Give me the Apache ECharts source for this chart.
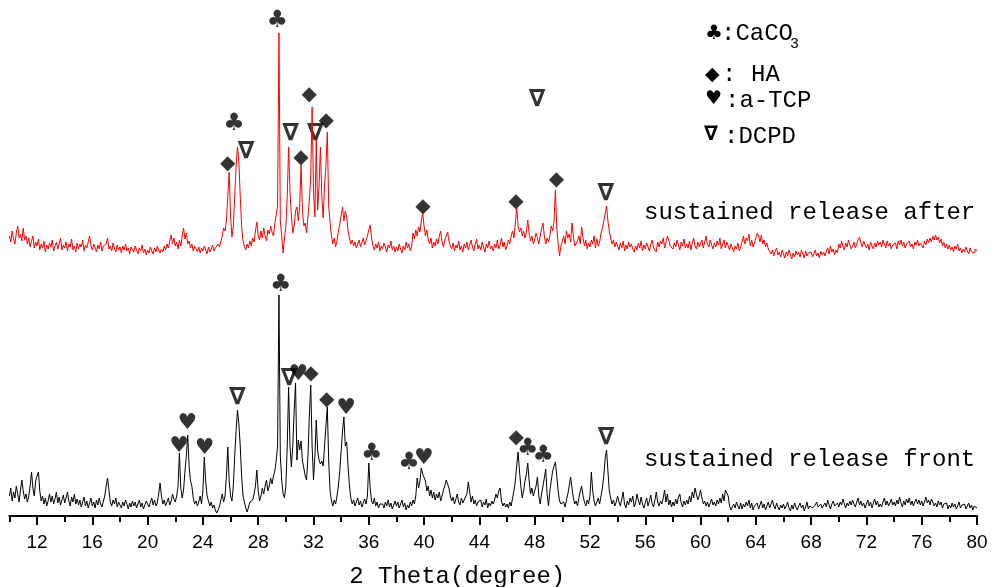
<!DOCTYPE html>
<html>
<head>
<meta charset="utf-8">
<script src="https://cdn.jsdelivr.net/npm/echarts@6/dist/echarts.min.js"></script>
<style>
html,body{margin:0;padding:0;background:#fff;}
#chart{width:995px;height:587px;}
</style>
</head>
<body>
<div id="chart"></div>
<script>
// ---- data ----
const twoThetaStart = 10;      // degree
const twoThetaStep = 0.1;      // degree per sample
const majorTickValues = [12,16,20,24,28,32,36,40,44,48,52,56,60,64,68,72,76,80];

// "sustained release after" (red), intensity a.u., 10.0 .. 80.0 step 0.1
const sustainedAfter = [
30,24,35,27,22,33,40,28,32,25,
38,26,30,22,28,19,25,30,18,24,
20,27,16,22,18,25,14,21,17,23,
19,26,15,20,24,17,22,28,16,21,
18,24,15,22,19,27,16,20,14,23,
17,22,19,26,15,21,18,24,30,20,
16,22,18,14,21,17,24,15,20,19,
22,28,17,20,15,23,18,14,21,16,
19,13,20,16,22,15,18,12,19,17,
14,20,16,12,18,15,21,13,17,11,
16,13,19,15,12,18,14,20,16,13,
17,14,20,16,22,18,25,31,22,28,
20,24,17,26,20,30,38,27,33,22,
25,18,22,15,20,17,14,19,13,18,
15,20,16,12,19,14,17,21,15,18,
16,22,19,25,30,38,35,45,70,94,
50,29,40,70,100,119,105,70,40,25,
20,16,22,18,25,20,28,24,35,44,
30,26,35,28,38,30,25,36,32,40,
34,30,42,51,60,233,45,30,13,28,
40,70,119,75,50,33,40,55,59,45,
60,101,55,40,43,33,50,66,90,159,
75,49,126,56,80,119,70,48,80,100,
134,60,43,30,22,28,19,25,35,42,
50,59,45,55,49,35,28,22,26,20,
24,18,22,26,19,23,28,21,25,30,
36,41,28,20,16,22,18,24,15,20,
17,23,19,14,21,18,25,16,20,14,
19,15,22,17,13,20,16,24,18,22,
15,20,33,27,36,30,39,34,45,53,
40,30,36,26,22,28,18,24,20,27,
22,30,35,24,19,26,30,34,25,20,
17,23,15,21,18,25,16,20,14,22,
18,24,16,21,26,19,15,22,27,17,
21,16,24,19,14,22,18,25,17,20,
15,22,18,26,17,21,28,19,24,16,
20,26,22,30,35,28,42,58,40,34,
38,30,35,28,34,46,32,25,30,22,
26,33,28,22,30,37,43,30,22,28,
24,30,40,35,45,76,38,22,10,20,
25,30,22,35,28,32,24,43,30,20,
18,25,30,22,39,28,20,26,17,23,
19,26,22,30,18,27,20,24,33,38,
45,52,60,45,35,27,22,26,19,24,
20,16,23,18,25,15,21,17,24,19,
22,17,14,20,16,23,18,25,15,21,
17,23,19,15,22,26,18,20,14,24,
19,25,22,28,18,24,30,26,20,22,
17,23,19,26,21,16,24,20,27,18,
22,18,25,16,23,28,20,17,24,19,
21,26,18,24,30,22,19,26,21,17,
23,19,25,21,28,17,22,26,18,24,
20,16,22,18,14,20,17,23,15,19,
24,30,22,28,25,32,20,26,19,23,
28,33,30,24,31,22,26,19,23,17,
17,12,16,10,15,18,11,14,9,16,
12,8,14,10,16,11,7,13,9,15,
11,14,9,16,12,8,15,10,13,11,
14,9,12,16,10,13,8,15,11,14,
10,15,18,12,20,14,17,11,16,13,
22,18,25,20,16,23,19,26,21,17,
20,24,18,22,26,29,23,19,25,21,
18,22,16,24,20,17,23,19,25,21,
24,19,26,22,18,25,20,23,17,21,
19,23,17,25,21,26,20,24,18,22,
20,25,19,22,17,24,21,26,20,23,
22,18,25,21,27,23,28,24,30,26,
31,26,29,23,27,20,24,18,22,17,
21,16,19,14,20,17,22,15,18,13,
17,14,19,15,12,18,14,16,13,17,
15
];

// "sustained release front" (black), intensity a.u., 10.0 .. 80.0 step 0.1
const sustainedFront = [
20,28,15,24,18,30,22,14,26,36,
25,17,22,14,20,30,44,28,20,35,
40,44,25,15,20,12,18,10,15,22,
14,20,12,17,24,13,19,11,16,21,
13,18,24,15,10,19,14,22,12,17,
11,16,9,14,19,10,15,8,13,18,
10,14,8,16,11,18,12,9,15,20,
30,38,26,14,10,16,12,18,9,14,
11,8,14,10,16,12,7,13,9,15,
10,14,8,12,16,9,13,7,11,15,
12,9,14,18,11,16,10,13,22,33,
20,12,16,10,14,18,11,15,22,17,
14,20,30,63,28,18,26,45,60,81,
50,35,30,18,12,15,10,14,20,12,
25,59,35,20,15,10,14,8,11,6,
3,6,10,16,22,14,20,40,69,35,
20,15,30,60,85,106,92,70,40,20,
14,8,4,9,14,12,16,22,30,46,
25,15,20,28,22,30,36,25,30,38,
32,40,45,55,70,221,60,36,22,18,
30,70,129,70,49,70,105,133,56,76,
66,75,55,48,40,36,60,100,131,70,
36,60,96,65,56,52,55,50,70,90,
109,55,25,15,10,16,12,20,30,45,
65,85,99,70,74,50,30,18,12,16,
10,14,18,11,15,9,13,17,12,20,
53,28,15,12,18,10,14,8,12,12,
12,8,14,10,16,9,13,7,11,15,
10,14,8,12,16,9,13,6,11,8,
14,10,16,12,20,38,28,35,48,42,
44,35,25,30,20,26,18,24,16,22,
18,24,15,20,26,30,36,38,28,20,
15,19,12,17,22,14,11,18,13,16,
16,22,34,24,14,20,12,16,10,14,
12,16,9,14,11,17,8,13,10,15,
12,16,22,18,25,28,15,10,13,9,
12,8,14,10,18,25,35,50,64,45,
30,18,25,35,42,53,35,22,28,20,
25,30,39,20,12,22,30,38,47,22,
10,25,35,45,50,54,40,25,15,12,
10,14,9,16,22,30,39,28,18,12,
15,10,18,25,30,20,14,10,16,12,
20,44,25,15,10,14,18,12,20,28,
40,58,66,45,25,18,12,16,10,14,
20,14,10,17,24,12,8,15,11,18,
14,20,9,13,22,16,11,19,12,8,
13,18,10,15,21,12,9,16,24,14,
10,15,12,18,26,14,22,11,16,9,
14,10,17,12,19,22,13,9,15,11,
16,12,20,14,24,18,28,22,16,20,
26,18,12,15,10,14,9,13,17,11,
14,10,16,12,18,13,22,15,26,24,
20,10,6,9,12,8,14,10,7,13,
7,12,9,14,10,16,8,13,6,10,
9,13,7,11,15,8,12,6,10,14,
8,12,16,10,7,13,9,6,11,8,
12,7,10,14,8,5,11,7,13,9,
6,10,13,8,11,5,9,14,7,10,
12,8,6,11,14,9,7,12,8,10,
13,9,16,11,7,12,15,10,8,13,
9,14,11,17,12,8,13,10,15,11,
16,12,9,14,18,11,15,10,13,8,
12,16,10,14,8,13,17,11,15,9,
12,9,14,18,11,15,10,13,17,11,
14,10,16,12,19,13,9,15,11,17,
13,18,11,15,10,14,17,12,16,11,
15,10,14,19,13,16,11,17,14,10,
13,9,15,11,14,8,12,10,13,7,
11,8,13,9,12,7,10,14,8,11,
9,12,7,10,13,8,11,6,10,9,
8
];

// phase markers (degree, intensity level of the marker, phase)
const afterMarkDeg   = [25.80, 26.25, 27.12, 29.38, 30.35, 31.10, 31.68, 32.13, 32.91, 39.91, 46.64, 49.57, 53.15, 48.18];
const afterMarkLevel = [102, 142, 114, 245, 132, 108, 171, 132, 145, 59, 64, 86, 72, 166];
const afterMarkPhase = ['HA','CaCO3','DCPD','CaCO3','DCPD','HA','HA','DCPD','HA','HA','HA','HA','DCPD','DCPD'];

const frontMarkDeg   = [22.27, 22.87, 24.13, 26.49, 29.63, 30.23, 30.90, 31.82, 32.96, 34.36, 36.22, 38.91, 39.98, 46.66, 47.50, 48.63, 53.17];
const frontMarkLevel = [70, 93, 68, 118, 231, 137, 142, 142, 116, 108, 62, 53, 58, 78, 67, 60, 78];
const frontMarkPhase = ['a-TCP','a-TCP','a-TCP','DCPD','CaCO3','DCPD','a-TCP','HA','HA','a-TCP','CaCO3','CaCO3','a-TCP','HA','CaCO3','CaCO3','DCPD'];

const phaseGlyph = { 'CaCO3': '\u2663', 'HA': '\u25C6', 'a-TCP': '\u2665', 'DCPD': '\u2207' };

// ---- layout / style ----
const afterOffset = 250;   // vertical stacking offset of the upper pattern
const monoFont = "'Liberation Mono', 'DejaVu Sans Mono', monospace";
const glyphFont = "'DejaVu Sans', sans-serif";
const glyphStyle = {
  'CaCO3': { fontSize: 24 },
  'HA':    { fontSize: 20 },
  'a-TCP': { fontSize: 22 },
  'DCPD':  { fontSize: 24, fontWeight: 'bold' }
};

const twoTheta = sustainedFront.map((_, i) => +(twoThetaStart + i * twoThetaStep).toFixed(1));

const frontData = twoTheta.map((x, i) => [x, sustainedFront[i]]);
const afterData = twoTheta.map((x, i) => [x, sustainedAfter[i] + afterOffset]);

function markItem(d, level, phase) {
  return { value: [d, level], glyph: phaseGlyph[phase], label: glyphStyle[phase] };
}
const markData = [];
afterMarkDeg.forEach((d, i) => markData.push(markItem(d, afterMarkLevel[i] + afterOffset, afterMarkPhase[i])));
frontMarkDeg.forEach((d, i) => markData.push(markItem(d, frontMarkLevel[i], frontMarkPhase[i])));

function txt(x, y, text, font, extra) {
  return Object.assign({ type: 'text', x: x, y: y, silent: true,
    style: Object.assign({ text: text, font: font, fill: '#000', textAlign: 'left', textVerticalAlign: 'middle' }, extra || {}) });
}

const chart = echarts.init(document.getElementById('chart'), null, { renderer: 'canvas' });
chart.setOption({
  animation: false,
  backgroundColor: '#ffffff',
  grid: { left: 9.4, right: 18, top: 0, bottom: 71, containLabel: false, outerBoundsMode: 'none' },
  xAxis: [
    {
      type: 'value', min: 10, max: 80, interval: 2,
      axisLine: { lineStyle: { color: '#000', width: 2 } },
      axisTick: { length: 6, lineStyle: { color: '#000', width: 2 } },
      axisLabel: { show: false },
      splitLine: { show: false }
    },
    {
      type: 'value', min: 10, max: 80, interval: 2, position: 'bottom',
      axisLine: { show: false },
      axisTick: { show: true, customValues: majorTickValues, length: 9, lineStyle: { color: '#000', width: 2 } },
      axisLabel: { customValues: majorTickValues, color: '#000', fontSize: 19, fontFamily: "'Liberation Sans', Arial, sans-serif", margin: 17 },
      splitLine: { show: false },
      name: '2 Theta(degree)', nameLocation: 'middle', nameGap: 49, nameMoveOverlap: false,
      nameTextStyle: { color: '#000', fontSize: 24, fontFamily: monoFont, padding: [0, 72, 0, 0], verticalAlign: 'top' }
    }
  ],
  yAxis: { type: 'value', min: 0, max: 516, show: false },
  series: [
    { name: 'sustained release front', type: 'line', xAxisIndex: 0, data: frontData, symbol: 'none',
      lineStyle: { color: '#000000', width: 1 }, silent: true },
    { name: 'sustained release after', type: 'line', xAxisIndex: 0, data: afterData, symbol: 'none',
      lineStyle: { color: '#ff0000', width: 1 }, silent: true },
    { name: 'phases', type: 'scatter', xAxisIndex: 0, data: markData, symbolSize: 1,
      itemStyle: { color: 'rgba(0,0,0,0)' }, silent: true,
      label: { show: true, position: 'inside', formatter: p => p.data.glyph,
        color: '#000', fontSize: 20, fontFamily: glyphFont } }
  ],
  graphic: [
    // legend box
    txt(705, 34, '\u2663', '20px ' + glyphFont),
    txt(721, 34, ':CaCO', '24px ' + monoFont),
    txt(790, 44, '3', '15px ' + monoFont),
    txt(705, 75, '\u25C6', '19px ' + glyphFont),
    txt(722, 75, ':', '24px ' + monoFont),
    txt(751, 75, 'HA', '24px ' + monoFont),
    txt(705, 99, '\u2665', '19px ' + glyphFont),
    txt(725, 101, ':a-TCP', '24px ' + monoFont),
    txt(704, 135, '\u2207', 'bold 20px ' + glyphFont),
    txt(724, 137, ':DCPD', '24px ' + monoFont),
    // pattern labels
    txt(644, 213, 'sustained release after', '24px ' + monoFont),
    txt(644, 460, 'sustained release front', '24px ' + monoFont)
  ]
});
</script>
</body>
</html>
